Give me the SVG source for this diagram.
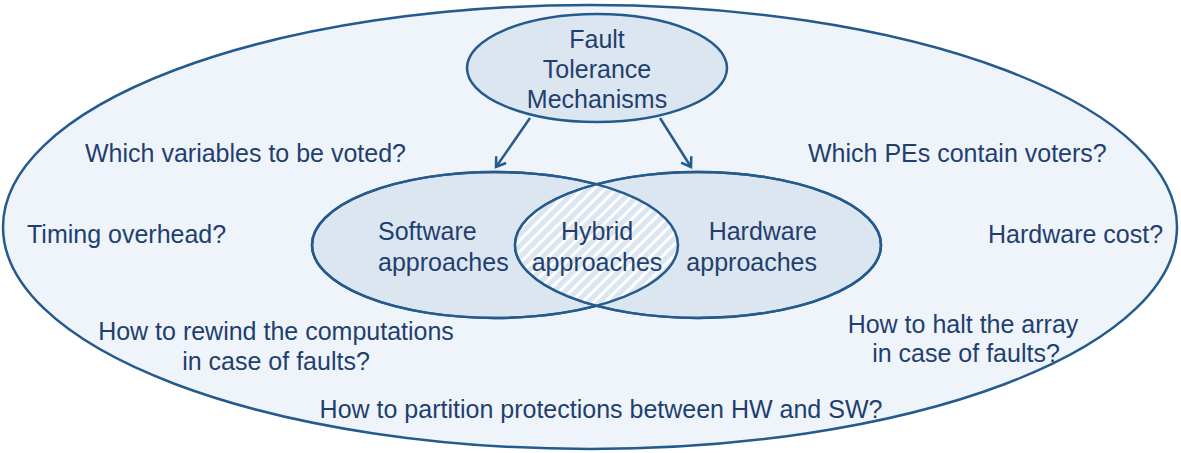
<svg xmlns="http://www.w3.org/2000/svg" width="1181" height="453" viewBox="0 0 1181 453">
<style>
.t{font-family:"Liberation Sans",Arial,sans-serif;font-size:25px;fill:#1F3F6E}
.el{stroke:#245A8C;stroke-width:2.5}
.conn{stroke:#245A8C;stroke-width:2.5;fill:none}
</style>
<defs>
<pattern id="hatch" patternUnits="userSpaceOnUse" width="8" height="8" patternTransform="rotate(45)">
<rect width="8" height="8" fill="#DCE6F1"/>
<rect width="3" height="8" fill="#FFFFFF"/>
</pattern>
<marker id="arr" markerWidth="14" markerHeight="14" refX="10" refY="7" orient="auto" markerUnits="userSpaceOnUse">
<path d="M1,1 L10,7 L1,13" fill="none" stroke="#245A8C" stroke-width="2.5"/>
</marker>
<clipPath id="leftClip"><ellipse cx="495" cy="245" rx="183" ry="73"/></clipPath>
</defs>
<g id="outer">
<ellipse class="el" cx="590" cy="227" rx="587" ry="222" fill="#EFF4FB"/>
<text class="t" x="85" y="162">Which variables to be voted?</text>
<text class="t" x="808" y="162">Which PEs contain voters?</text>
<text class="t" x="27" y="243">Timing overhead?</text>
<text class="t" x="988" y="243">Hardware cost?</text>
<text class="t" x="276" y="340" text-anchor="middle">How to rewind the computations</text>
<text class="t" x="276" y="370" text-anchor="middle">in case of faults?</text>
<text class="t" x="963" y="333" text-anchor="middle">How to halt the array</text>
<text class="t" x="966" y="362" text-anchor="middle">in case of faults?</text>
<text class="t" x="601" y="418" text-anchor="middle">How to partition protections between HW and SW?</text>
</g>
<g id="software">
<ellipse class="el" cx="495" cy="245" rx="183" ry="73" fill="#DCE6F1"/>
</g>
<g id="hardware">
<ellipse class="el" cx="698" cy="245" rx="183" ry="73" fill="#DCE6F1"/>
</g>
<g id="hybrid">
<ellipse cx="698" cy="245" rx="183" ry="73" fill="url(#hatch)" clip-path="url(#leftClip)"/>
<ellipse class="el" cx="495" cy="245" rx="183" ry="73" fill="none"/>
<ellipse class="el" cx="698" cy="245" rx="183" ry="73" fill="none"/>
<text class="t" x="597" y="240" text-anchor="middle">Hybrid</text>
<text class="t" x="597" y="271" text-anchor="middle">approaches</text>
</g>
<g id="software-label">
<text class="t" x="378" y="240">Software</text>
<text class="t" x="378" y="271">approaches</text>
</g>
<g id="hardware-label">
<text class="t" x="817" y="240" text-anchor="end">Hardware</text>
<text class="t" x="817" y="271" text-anchor="end">approaches</text>
</g>
<g id="ftm">
<ellipse class="el" cx="597" cy="68" rx="130" ry="54" fill="#DCE6F1"/>
<text class="t" x="597" y="48" text-anchor="middle">Fault</text>
<text class="t" x="597" y="78" text-anchor="middle">Tolerance</text>
<text class="t" x="597" y="108" text-anchor="middle">Mechanisms</text>
</g>
<g id="connectors">
<path class="conn" d="M530,118 L496,167" marker-end="url(#arr)"/>
<path class="conn" d="M660,118 L691,167" marker-end="url(#arr)"/>
</g>
</svg>
